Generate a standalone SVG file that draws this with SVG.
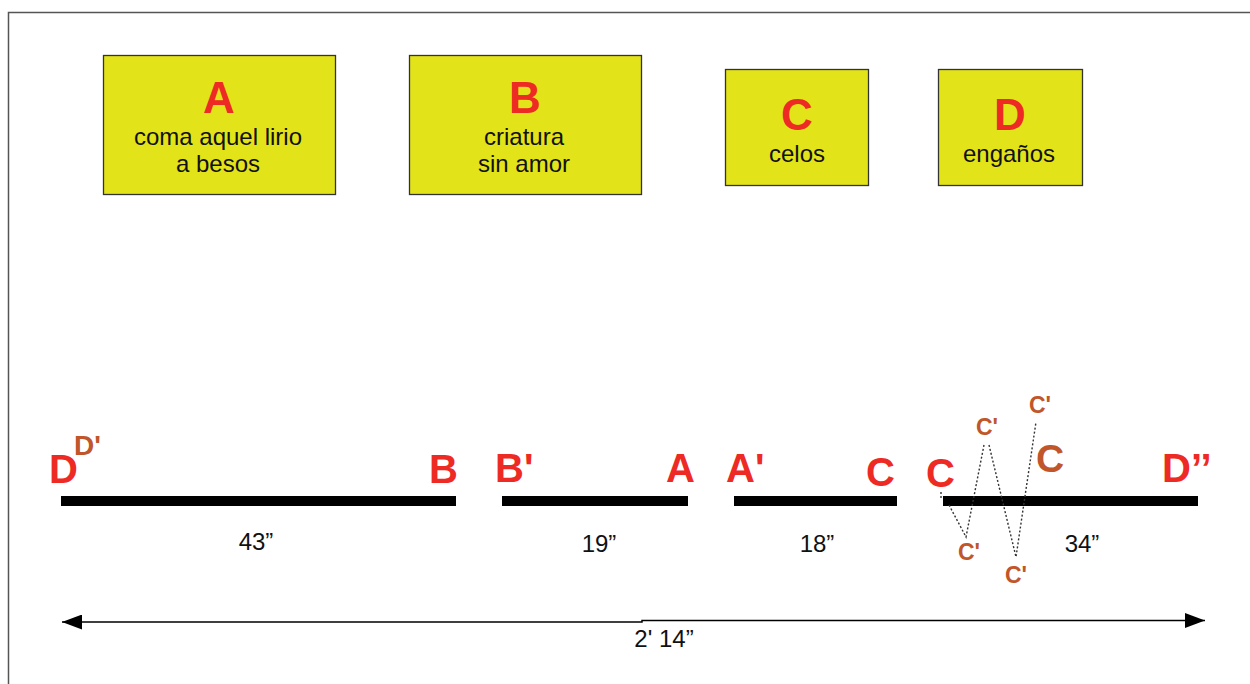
<svg xmlns="http://www.w3.org/2000/svg" width="1250" height="684" viewBox="0 0 1250 684">
<defs>
<style>
.box{fill:#e3e31a;stroke:#333;stroke-width:1.3}
.big{font-family:"Liberation Sans",Arial,sans-serif;font-weight:bold;fill:#ee2a24;text-anchor:middle}
.sub{font-family:"Liberation Sans",Arial,sans-serif;font-size:24px;fill:#111;text-anchor:middle}
.lbl{font-family:"Liberation Sans",Arial,sans-serif;font-weight:bold;font-size:40px;fill:#ee2a24}
.br{font-family:"Liberation Sans",Arial,sans-serif;font-weight:bold;fill:#c0562a}
.dur{font-family:"Liberation Sans",Arial,sans-serif;font-size:24px;fill:#111;text-anchor:middle}
.bar{fill:#000}
.dot{fill:none;stroke:#333;stroke-width:1.4;stroke-dasharray:2 2}
</style>
<marker id="ah" viewBox="0 0 10 10" refX="10" refY="5" markerWidth="20" markerHeight="15" markerUnits="userSpaceOnUse" orient="auto-start-reverse" preserveAspectRatio="none">
<path d="M0,0 L10,5 L0,10 z" fill="#000"/>
</marker>
</defs>
<rect width="1250" height="684" fill="#fff"/>
<path d="M8.5,684 V12.5 H1250" fill="none" stroke="#555" stroke-width="1.5"/>

<g id="nodeA">
<rect class="box" x="103.5" y="55.5" width="232" height="139"/>
<text class="big" x="219" y="113" font-size="44">A</text>
<text class="sub" x="218" y="145">coma aquel lirio</text>
<text class="sub" x="218" y="172">a besos</text>
</g>
<g id="nodeB">
<rect class="box" x="409.5" y="55.5" width="232" height="139"/>
<text class="big" x="525" y="113" font-size="44">B</text>
<text class="sub" x="524" y="145">criatura</text>
<text class="sub" x="524" y="172">sin amor</text>
</g>
<g id="nodeC">
<rect class="box" x="725.5" y="69.5" width="143" height="116"/>
<text class="big" x="797" y="130" font-size="44">C</text>
<text class="sub" x="797" y="162">celos</text>
</g>
<g id="nodeD">
<rect class="box" x="938.5" y="69.5" width="144" height="116"/>
<text class="big" x="1010" y="130" font-size="44">D</text>
<text class="sub" x="1009" y="162">engaños</text>
</g>

<g id="timeline">
<rect class="bar" x="61" y="496" width="395" height="10"/>
<rect class="bar" x="502" y="496" width="186" height="10"/>
<rect class="bar" x="734" y="496" width="163" height="10"/>
<rect class="bar" x="943" y="496" width="255" height="10"/>
<text class="lbl" x="49" y="483">D</text>
<text class="br" x="74" y="455" font-size="28">D'</text>
<text class="lbl" x="429" y="483">B</text>
<text class="lbl" x="495" y="482">B'</text>
<text class="lbl" x="666" y="482">A</text>
<text class="lbl" x="726" y="482">A'</text>
<text class="lbl" x="866" y="486">C</text>
<text class="lbl" x="926" y="487">C</text>
<text class="br" x="1036" y="472" font-size="39">C</text>
<text class="lbl" x="1162" y="482">D’’</text>
<text class="br" x="976" y="435" font-size="23">C'</text>
<text class="br" x="1029" y="413" font-size="23">C'</text>
<text class="br" x="958" y="560" font-size="23">C'</text>
<text class="br" x="1005" y="583" font-size="23">C'</text>
<text class="dur" x="256" y="550">43”</text>
<text class="dur" x="599" y="552">19”</text>
<text class="dur" x="817" y="552">18”</text>
<text class="dur" x="1082" y="552">34”</text>
</g>

<g id="connectors">
<path class="dot" d="M941,492 V500"/>
<path class="dot" d="M949,505 L966,537 L984,445"/>
<path class="dot" d="M989,445 L1016,557 L1036,422"/>
<path d="M62,622 H642 V620.5 H1205" fill="none" stroke="#000" stroke-width="1.5" marker-start="url(#ah)" marker-end="url(#ah)"/>
<text class="dur" x="664" y="647" font-size="23">2' 14”</text>
</g>
</svg>
